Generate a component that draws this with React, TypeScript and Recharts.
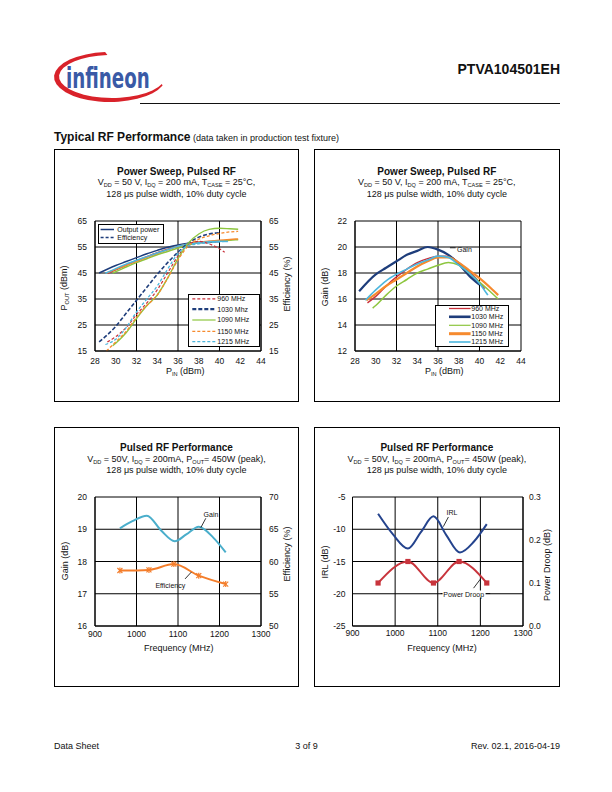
import React from "react"
import { CartesianGrid, Line, LineChart, ReferenceLine, XAxis, YAxis } from "recharts"

const FONT = '"Liberation Sans", Arial, Helvetica, sans-serif'

const RED = "#c9313b"
const NAVY = "#1e3d7b"
const GREEN = "#8dc63f"
const ORANGE = "#f68a2e"
const CYAN = "#4cb6de"

// power sweep: Pin (dBm) and the readings at each frequency
const pin960 = [29.2, 30, 31, 32, 33, 34, 35, 36, 37, 38, 39, 40, 40.5]
const pout960 = [44.9, 46.2, 48.0, 49.7, 51.3, 52.8, 54.1, 55.3, 56.3, 56.8, 57.1, 57.3, 57.3]
const eff960 = [18.5, 20.5, 24, 29, 33.5, 38.5, 45, 51.5, 56, 57.2, 56.2, 54.3, 53]
const gain960 = [15.7, 16.2, 17.0, 17.7, 18.3, 18.8, 19.1, 19.3, 19.3, 18.8, 18.1, 17.3, 16.8]

const pin1030 = [28.4, 30, 31, 32, 33, 34, 35, 36, 37, 38, 39, 40]
const pout1030 = [45, 47.9, 49.4, 50.9, 52.4, 53.7, 54.9, 55.8, 56.4, 56.7, 56.8, 57.1]
const eff1030 = [18.5, 24.5, 29.5, 34.5, 39.5, 44.5, 49, 53, 56.5, 58.8, 60, 60.5]
const gain1030 = [16.6, 17.9, 18.4, 18.9, 19.4, 19.7, 20.0, 19.8, 19.4, 18.7, 17.8, 17.1]

const pin1090 = [29.7, 30, 31, 32, 33, 34, 35, 36, 37, 38, 39, 40, 41, 41.8]
const pout1090 = [45, 45.5, 47.3, 49.0, 50.5, 52.0, 53.3, 54.6, 55.8, 56.6, 57.0, 57.3, 57.6, 57.8]
const eff1090 = [17, 18, 22, 27.5, 32.5, 36.5, 43, 50.5, 56.5, 60, 61.8, 62.2, 62, 61.8]
const gain1090 = [15.3, 15.5, 16.3, 17.0, 17.5, 18.0, 18.3, 18.6, 18.8, 18.6, 18.0, 17.3, 16.6, 16.0]

const pin1150 = [29.1, 30, 31, 32, 33, 34, 35, 36, 37, 38, 39, 40, 41, 41.8]
const pout1150 = [45, 46.4, 48.0, 49.5, 51.0, 52.5, 53.9, 55.2, 56.2, 56.8, 57.2, 57.6, 57.9, 58.1]
const eff1150 = [15, 18.5, 22.5, 28, 32.5, 36.5, 43, 50, 55.5, 58, 59.3, 60.2, 60.8, 61]
const gain1150 = [15.9, 16.4, 17.0, 17.5, 18.0, 18.5, 18.9, 19.2, 19.2, 18.8, 18.2, 17.6, 16.9, 16.3]

const pin1215 = [29.0, 30, 31, 32, 33, 34, 35, 36, 37, 38, 39, 40, 40.8]
const pout1215 = [44.9, 46.7, 48.4, 49.9, 51.3, 52.7, 54.0, 55.3, 56.2, 56.6, 57.0, 57.2, 57.1]
const eff1215 = [17.5, 19.5, 24, 30, 35, 40, 46.5, 52.5, 55.5, 56.2, 56.6, 57, 57.2]
const gain1215 = [15.9, 16.7, 17.4, 17.9, 18.3, 18.7, 19.0, 19.3, 19.2, 18.6, 18.0, 17.2, 16.3]

// frequency sweeps at Pout = 450 W
const freqGain = [960, 990, 1025, 1060, 1092, 1120, 1150, 1185, 1215]
const gainVsFreq = [19.03, 19.25, 19.42, 18.95, 18.63, 18.84, 19.08, 18.74, 18.28]
const freqEff = [960, 1030, 1090, 1150, 1215]
const effVsFreq = [58.6, 58.7, 59.6, 57.8, 56.5]
const freqIrl = [960, 995, 1030, 1060, 1090, 1120, 1152, 1185, 1215]
const irlVsFreq = [-7.6, -10.8, -13.0, -10.5, -8.0, -10.9, -13.6, -11.9, -9.2]
const freqDroop = [960, 1030, 1090, 1150, 1215]
const droopVsFreq = [0.1, 0.15, 0.1, 0.15, 0.1]

const pinTicks = [28, 30, 32, 34, 36, 38, 40, 42, 44]
const poutTicks = [15, 25, 35, 45, 55, 65]
const gainTicks = [12, 14, 16, 18, 20, 22]
const freqTicks = [900, 1000, 1100, 1200, 1300]
const gainFreqTicks = [16, 17, 18, 19, 20]
const effFreqTicks = [50, 55, 60, 65, 70]
const irlTicks = [-25, -20, -15, -10, -5]
const droopTicks = [0, 0.1, 0.2, 0.3]

const sweeps = [
  { name: "960 MHz", pin: pin960, pout: pout960, eff: eff960, gain: gain960, color: RED, effDash: "3 2", effW: 1.2, gainW: 1.4 },
  { name: "1030 Mhz", pin: pin1030, pout: pout1030, eff: eff1030, gain: gain1030, color: NAVY, effDash: "4 2", effW: 1.6, gainW: 2.2 },
  { name: "1090 MHz", pin: pin1090, pout: pout1090, eff: eff1090, gain: gain1090, color: GREEN, effDash: undefined, effW: 1.4, gainW: 1.5 },
  { name: "1150 MHz", pin: pin1150, pout: pout1150, eff: eff1150, gain: gain1150, color: ORANGE, effDash: "3 2", effW: 1.3, gainW: 2.2 },
  { name: "1215 MHz", pin: pin1215, pout: pout1215, eff: eff1215, gain: gain1215, color: CYAN, effDash: "3 2", effW: 1.3, gainW: 1.6 },
]

const rows = (xs: number[], ys: number[]) => xs.map((x, i) => ({ x, y: ys[i] }))

const tickStyle = { fontSize: 8.5, fill: "#111", fontFamily: FONT }
const axisLine = { stroke: "#000", strokeWidth: 1 }

function Txt({ x, y, size = 9, bold = false, anchor = "middle", rotate = false, bg, children }: any) {
  const tx = anchor === "start" ? "0" : anchor === "end" ? "-100%" : "-50%"
  return (
    <div
      style={{
        position: "absolute",
        left: x,
        top: y,
        transform: `translate(${tx}, -50%)${rotate ? " rotate(-90deg)" : ""}`,
        whiteSpace: "nowrap",
        fontSize: size,
        fontWeight: bold ? 700 : 400,
        lineHeight: 1,
        fontFamily: FONT,
        color: "#111",
        background: bg,
        padding: bg ? "0 1px" : undefined,
      }}
    >
      {children}
    </div>
  )
}

const Sub = ({ children }: any) => (
  <span style={{ fontSize: "0.62em", verticalAlign: "-0.3em" }}>{children}</span>
)

function Box({ x, y, w, h }: any) {
  return (
    <div
      style={{ position: "absolute", left: x, top: y, width: w, height: h, border: "1px solid #000", boxSizing: "border-box" }}
    />
  )
}

function LegendBox({ x, y, w, h, items, x1, x2, tx, size = 7 }: any) {
  return (
    <svg style={{ position: "absolute", left: x, top: y }} width={w} height={h}>
      <rect x={0.5} y={0.5} width={w - 1} height={h - 1} fill="#fff" stroke="#000" strokeWidth={1} />
      {items.map((it: any) => (
        <g key={it.name}>
          <line x1={x1} x2={x2} y1={it.y} y2={it.y} stroke={it.color} strokeWidth={it.w} strokeDasharray={it.dash} />
          <text x={tx} y={it.y} dy="0.35em" fontSize={size} fontFamily={FONT} fill="#111">
            {it.name}
          </text>
        </g>
      ))}
    </svg>
  )
}

function PowerSweepChart() {
  return (
    <div style={{ position: "absolute", left: 54, top: 149 }}>
      <LineChart width={245} height={253} margin={{ top: 72, right: 0, bottom: 0, left: 0 }}>
        <CartesianGrid yAxisId="l" stroke="#000" strokeWidth={1} />
        <XAxis type="number" dataKey="x" domain={[28, 44]} ticks={pinTicks} height={51} tick={tickStyle}
          tickLine={false} tickSize={0} tickMargin={7} axisLine={axisLine} allowDataOverflow />
        <YAxis yAxisId="l" type="number" domain={[15, 65]} ticks={poutTicks} width={41} tick={tickStyle}
          tickLine={false} tickSize={0} tickMargin={8} axisLine={axisLine} />
        <YAxis yAxisId="r" orientation="right" type="number" domain={[15, 65]} ticks={poutTicks} width={38}
          tick={tickStyle} tickLine={false} tickSize={0} tickMargin={8} axisLine={axisLine} />
        {sweeps.map((s) => (
          <Line key={"p" + s.name} yAxisId="l" data={rows(s.pin, s.pout)} dataKey="y" type="monotone"
            stroke={s.color} strokeWidth={1.5} dot={false} activeDot={false} isAnimationActive={false} />
        ))}
        {sweeps.map((s) => (
          <Line key={"e" + s.name} yAxisId="r" data={rows(s.pin, s.eff)} dataKey="y" type="monotone"
            stroke={s.color} strokeWidth={s.effW} strokeDasharray={s.effDash} dot={false} activeDot={false}
            isAnimationActive={false} />
        ))}
      </LineChart>
    </div>
  )
}

function GainSweepChart() {
  return (
    <div style={{ position: "absolute", left: 314, top: 149 }}>
      <LineChart width={245} height={253} margin={{ top: 72, right: 38, bottom: 0, left: 0 }}>
        <CartesianGrid yAxisId="l" stroke="#000" strokeWidth={1} />
        <XAxis type="number" dataKey="x" domain={[28, 44]} ticks={pinTicks} height={51} tick={tickStyle}
          tickLine={false} tickSize={0} tickMargin={7} axisLine={axisLine} allowDataOverflow />
        <YAxis yAxisId="l" type="number" domain={[12, 22]} ticks={gainTicks} width={41} tick={tickStyle}
          tickLine={false} tickSize={0} tickMargin={8} axisLine={axisLine} />
        {sweeps.map((s) => (
          <Line key={s.name} yAxisId="l" data={rows(s.pin, s.gain)} dataKey="y" type="monotone"
            stroke={s.color} strokeWidth={s.gainW} dot={false} activeDot={false} isAnimationActive={false} />
        ))}
        <ReferenceLine yAxisId="l" segment={[{ x: 37.15, y: 19.94 }, { x: 37.7, y: 19.94 }]} stroke="#000" strokeWidth={0.8} />
      </LineChart>
    </div>
  )
}

const xMark = (color: string) => (p: any) => {
  const { cx, cy, index } = p
  if (cx == null || cy == null) return <g key={index} />
  return (
    <g key={index} stroke={color} strokeWidth={1.2}>
      <line x1={cx - 2.5} y1={cy - 2.5} x2={cx + 2.5} y2={cy + 2.5} />
      <line x1={cx - 2.5} y1={cy + 2.5} x2={cx + 2.5} y2={cy - 2.5} />
      <line x1={cx} y1={cy - 3} x2={cx} y2={cy + 3} />
    </g>
  )
}

const squareMark = (color: string) => (p: any) => {
  const { cx, cy, index } = p
  if (cx == null || cy == null) return <g key={index} />
  return <rect key={index} x={cx - 2.6} y={cy - 2.6} width={5.2} height={5.2} fill={color} />
}

function GainEffFreqChart() {
  return (
    <div style={{ position: "absolute", left: 54, top: 427 }}>
      <LineChart width={245} height={260} margin={{ top: 70, right: 0, bottom: 0, left: 0 }}>
        <CartesianGrid yAxisId="l" stroke="#000" strokeWidth={1} />
        <XAxis type="number" dataKey="x" domain={[900, 1300]} ticks={freqTicks} height={61} tick={tickStyle}
          tickLine={false} tickSize={0} tickMargin={5} axisLine={axisLine} />
        <YAxis yAxisId="l" type="number" domain={[16, 20]} ticks={gainFreqTicks} width={41} tick={tickStyle}
          tickLine={false} tickSize={0} tickMargin={8} axisLine={axisLine} />
        <YAxis yAxisId="r" orientation="right" type="number" domain={[50, 70]} ticks={effFreqTicks} width={38}
          tick={tickStyle} tickLine={false} tickSize={0} tickMargin={8} axisLine={axisLine} />
        <Line yAxisId="l" data={rows(freqGain, gainVsFreq)} dataKey="y" type="monotone" stroke="#4aaecb"
          strokeWidth={2} dot={false} activeDot={false} isAnimationActive={false} />
        <Line yAxisId="r" data={rows(freqEff, effVsFreq)} dataKey="y" type="monotone" stroke="#f47d2a"
          strokeWidth={2} dot={xMark("#f47d2a")} activeDot={false} isAnimationActive={false} />
        <ReferenceLine yAxisId="l" segment={[{ x: 1167, y: 19.34 }, { x: 1155, y: 19.05 }]} stroke="#000" strokeWidth={0.8} />
        <ReferenceLine yAxisId="r" segment={[{ x: 1117, y: 57.3 }, { x: 1132, y: 58.35 }]} stroke="#000" strokeWidth={0.8} />
      </LineChart>
    </div>
  )
}

function IrlDroopChart() {
  return (
    <div style={{ position: "absolute", left: 314, top: 427 }}>
      <LineChart width={245} height={260} margin={{ top: 70, right: 0, bottom: 0, left: 0 }}>
        <CartesianGrid yAxisId="l" stroke="#000" strokeWidth={1} />
        <XAxis type="number" dataKey="x" domain={[900, 1300]} ticks={freqTicks} height={61} tick={tickStyle}
          tickLine={false} tickSize={0} tickMargin={4} axisLine={axisLine} />
        <YAxis yAxisId="l" type="number" domain={[-25, -5]} ticks={irlTicks} width={38.5} tick={tickStyle}
          tickLine={false} tickSize={0} tickMargin={7} axisLine={axisLine} />
        <YAxis yAxisId="r" orientation="right" type="number" domain={[0, 0.3]} ticks={droopTicks} width={36}
          tick={tickStyle} tickLine={false} tickSize={0} tickMargin={6} axisLine={axisLine}
          tickFormatter={(v: number) => v.toFixed(1)} />
        <Line yAxisId="l" data={rows(freqIrl, irlVsFreq)} dataKey="y" type="monotone" stroke="#24438d"
          strokeWidth={2} dot={false} activeDot={false} isAnimationActive={false} />
        <Line yAxisId="r" data={rows(freqDroop, droopVsFreq)} dataKey="y" type="monotone" stroke="#c8343c"
          strokeWidth={2} dot={squareMark("#c8343c")} activeDot={false} isAnimationActive={false} />
        <ReferenceLine yAxisId="l" segment={[{ x: 1113, y: -9.6 }, { x: 1125, y: -8.1 }]} stroke="#000" strokeWidth={0.8} />
        <ReferenceLine yAxisId="r" segment={[{ x: 1107, y: 0.0755 }, { x: 1223, y: 0.0755 }]} stroke="#000" strokeWidth={0.8} />
        <ReferenceLine yAxisId="r" segment={[{ x: 1184, y: 0.088 }, { x: 1200, y: 0.109 }]} stroke="#000" strokeWidth={0.8} />
      </LineChart>
    </div>
  )
}

function Logo() {
  return (
    <svg style={{ position: "absolute", left: 50, top: 50 }} width={200} height={58}>
      <path
        d="M55.1 2.1 A56 25 0 1 0 112.6 35.6 L111.8 33.9 A53 21.5 0 1 1 57.4 5.1 Z"
        fill="#d9222a"
      />
      <g transform="translate(16 37.5) scale(0.7 1)">
        <text x={0} y={0} fontSize={29} fontWeight={700} fill="#3a5aa6"
          fontFamily='"DejaVu Sans Condensed", "Liberation Sans Narrow", Arial, sans-serif'>
          infineon
        </text>
      </g>
    </svg>
  )
}

export default function App() {
  const sub1 = (
    <>
      V<Sub>DD</Sub> = 50 V, I<Sub>DQ</Sub> = 200 mA, T<Sub>CASE</Sub> = 25°C,
    </>
  )
  const sub2 = (
    <>
      V<Sub>DD</Sub> = 50V, I<Sub>DQ</Sub> = 200mA, P<Sub>OUT</Sub>= 450W (peak),
    </>
  )
  return (
    <div style={{ position: "absolute", left: 0, top: 0, width: 612, height: 792, background: "#fff", fontFamily: FONT }}>
      <Logo />
      <Txt x={560} y={69} size={14} bold anchor="end">PTVA104501EH</Txt>
      <div style={{ position: "absolute", left: 140, top: 102.5, width: 420, height: 1, background: "#111" }} />
      <div style={{ position: "absolute", left: 54, top: 128, whiteSpace: "nowrap", fontFamily: FONT, color: "#111", lineHeight: 1 }}>
        <span style={{ fontSize: 12, fontWeight: 700 }}>Typical RF Performance</span>
        <span style={{ fontSize: 9 }}> (data taken in production test fixture)</span>
      </div>

      {/* top left */}
      <Box x={54} y={149} w={245} h={253} />
      <PowerSweepChart />
      <Txt x={176.5} y={171.5} size={10} bold>Power Sweep, Pulsed RF</Txt>
      <Txt x={176.5} y={183} size={9}>{sub1}</Txt>
      <Txt x={176.5} y={193.5} size={9}>128 μs pulse width, 10% duty cycle</Txt>
      <Txt x={64.7} y={288} size={9} rotate>P<Sub>OUT</Sub> (dBm)</Txt>
      <Txt x={287} y={284} size={9} rotate>Efficiency (%)</Txt>
      <Txt x={185.3} y={371.7} size={9}>P<Sub>IN</Sub> (dBm)</Txt>
      <LegendBox x={97.7} y={224} w={66} h={20} x1={2.6} x2={16} tx={19.3}
        items={[
          { name: "Output power", y: 5.5, color: NAVY, w: 1.5 },
          { name: "Efficiency", y: 13.5, color: NAVY, w: 1.5, dash: "3 2" },
        ]} />
      <LegendBox x={187.7} y={294} w={72} h={53} x1={4.3} x2={27.6} tx={29.3}
        items={sweeps.map((s, i) => ({
          name: s.name,
          y: [4.8, 15.2, 26, 37.3, 47.7][i],
          color: s.color,
          w: i === 1 ? 2.2 : 1.2,
          dash: s.effDash,
        }))} />

      {/* top right */}
      <Box x={314} y={149} w={245.5} h={253} />
      <GainSweepChart />
      <Txt x={436.8} y={171.5} size={10} bold>Power Sweep, Pulsed RF</Txt>
      <Txt x={436.8} y={183} size={9}>{sub1}</Txt>
      <Txt x={436.8} y={193.5} size={9}>128 μs pulse width, 10% duty cycle</Txt>
      <Txt x={325} y={286.7} size={9} rotate>Gain (dB)</Txt>
      <Txt x={444.3} y={371.7} size={9}>P<Sub>IN</Sub> (dBm)</Txt>
      <Txt x={457} y={248.5} size={7} anchor="start">Gain</Txt>
      <LegendBox x={434.7} y={305} w={74} h={42} x1={14} x2={35.6} tx={36.3}
        items={sweeps.map((s, i) => ({
          name: s.name.replace("Mhz", "MHz"),
          y: [3.5, 11.8, 20.3, 28.7, 37][i],
          color: s.color,
          w: [1.3, 2.6, 1.2, 3, 1.6][i],
        }))} />

      {/* bottom left */}
      <Box x={54} y={427} w={245} h={260} />
      <GainEffFreqChart />
      <Txt x={176.5} y={448} size={10} bold>Pulsed RF Performance</Txt>
      <Txt x={176.5} y={459.5} size={9}>{sub2}</Txt>
      <Txt x={176.5} y={470} size={9}>128 μs pulse width, 10% duty cycle</Txt>
      <Txt x={64.7} y={560.7} size={9} rotate>Gain (dB)</Txt>
      <Txt x={287} y={554} size={9} rotate>Efficiency (%)</Txt>
      <Txt x={178.7} y={648.3} size={9}>Frequency  (MHz)</Txt>
      <Txt x={211} y={514.3} size={7}>Gain</Txt>
      <Txt x={170.3} y={584.7} size={7}>Efficiency</Txt>

      {/* bottom right */}
      <Box x={314} y={427} w={245.5} h={260} />
      <IrlDroopChart />
      <Txt x={436.8} y={448} size={10} bold>Pulsed RF Performance</Txt>
      <Txt x={436.8} y={459.5} size={9}>{sub2}</Txt>
      <Txt x={436.8} y={470} size={9}>128 μs pulse width, 10% duty cycle</Txt>
      <Txt x={325.3} y={561.7} size={9} rotate>IRL (dB)</Txt>
      <Txt x={547} y={565} size={9} rotate>Power Droop (dB)</Txt>
      <Txt x={442} y={647.7} size={9}>Frequency  (MHz)</Txt>
      <Txt x={452} y={511.7} size={7}>IRL</Txt>
      <Txt x={463.7} y={594.3} size={7} bg="#fff">Power Droop</Txt>

      {/* footer */}
      <Txt x={54} y={746} size={9} anchor="start">Data Sheet</Txt>
      <Txt x={306.5} y={746} size={9}>3 of 9</Txt>
      <Txt x={560} y={746} size={9} anchor="end">Rev. 02.1, 2016-04-19</Txt>
    </div>
  )
}
